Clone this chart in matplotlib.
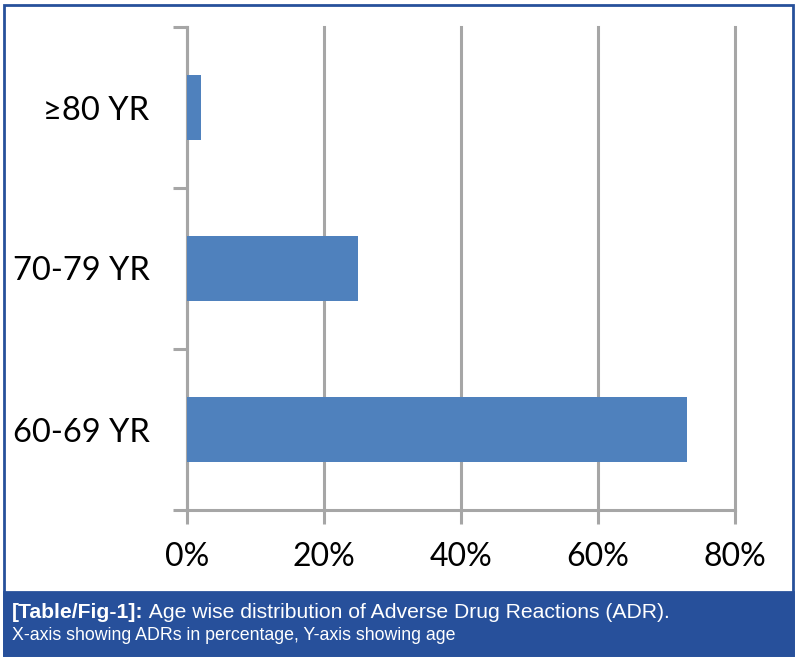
"""Age wise distribution of ADR - horizontal bar chart with caption box."""

import matplotlib

matplotlib.use("Agg")
import matplotlib.pyplot as plt
from matplotlib.patches import Rectangle
from matplotlib.ticker import FixedLocator, PercentFormatter

categories = ["60-69 YR", "70-79 YR", "\u226580 YR"]
adr_share = [0.73, 0.25, 0.02]
x_ticks = [0.0, 0.2, 0.4, 0.6, 0.8]

caption_bold = "[Table/Fig-1]:"
caption_rest = " Age wise distribution of Adverse Drug Reactions (ADR)."
caption_line2 = "X-axis showing ADRs in percentage, Y-axis showing age"

W, H = 799, 660
BLUE = "#27509b"
GRID = "#a6a6a6"
BAR = "#4f81bd"


def main() -> None:
    fig = plt.figure(figsize=(W / 100, H / 100), dpi=100)

    # outer frame and caption band
    fig.patches.append(Rectangle((4 / W, 5 / H), 789 / W, 650 / H, transform=fig.transFigure,
                                 fill=False, edgecolor=BLUE, linewidth=2))
    fig.patches.append(Rectangle((4 / W, 5 / H), 789 / W, 63 / H, transform=fig.transFigure,
                                 facecolor=BLUE, edgecolor=BLUE, linewidth=2))

    ax = fig.add_axes([187 / W, 1 - 510 / H, (735 - 187) / W, (510 - 27) / H])
    ypos = list(range(len(categories)))
    ax.barh(ypos, adr_share, height=0.4, color=BAR, zorder=3)

    ax.set_xlim(0, 0.8)
    ax.set_ylim(-0.5, len(categories) - 0.5)
    ax.xaxis.set_major_locator(FixedLocator(x_ticks))
    ax.xaxis.set_major_formatter(PercentFormatter(1.0, decimals=0))
    ax.yaxis.set_major_locator(FixedLocator([i - 0.5 for i in range(len(categories) + 1)]))
    ax.yaxis.set_minor_locator(FixedLocator(ypos))
    ax.set_yticklabels([], minor=False)
    ax.set_yticklabels(categories, minor=True)

    ax.grid(axis="x", color=GRID, linewidth=2.2, zorder=0)
    for gl in ax.get_xgridlines():
        gl.set_clip_on(False)
    for side in ("top", "right"):
        ax.spines[side].set_visible(False)
    for side in ("left", "bottom"):
        ax.spines[side].set_color(GRID)
        ax.spines[side].set_linewidth(2.2)

    font = ["Lato", "DejaVu Sans"]
    ax.tick_params(axis="both", which="major", color=GRID, width=2.2, length=10)
    ax.tick_params(axis="x", labelsize=23, pad=13)
    ax.tick_params(axis="y", which="minor", length=0, labelsize=23.5, pad=27)
    for lab in ax.get_xticklabels() + ax.get_yticklabels(minor=True):
        lab.set_family(font)

    cap_font = ["Liberation Sans", "DejaVu Sans"]
    t1 = fig.text(12 / W, 1 - 612 / H, caption_bold, color="white", fontsize=15.2,
                  fontweight="bold", family=cap_font, va="center", ha="left")
    fig.canvas.draw()
    bb = t1.get_window_extent(fig.canvas.get_renderer())
    fig.text(bb.x1 / W, 1 - 612 / H, caption_rest, color="white", fontsize=15.2,
             family=cap_font, va="center", ha="left")
    fig.text(12 / W, 1 - 636 / H, caption_line2, color="white", fontsize=12.8,
             family=cap_font, va="center", ha="left")

    fig.savefig("out.png", dpi=100)
    plt.close(fig)


if __name__ == "__main__":
    main()
